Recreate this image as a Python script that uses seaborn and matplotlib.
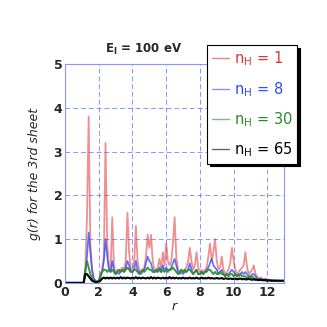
import numpy as np
import pandas as pd
import matplotlib
matplotlib.use("Agg")
import matplotlib.pyplot as plt
import seaborn as sns

# r grid 0.0 .. 13.0 step 0.1, one row per unit of r
r = np.round(np.arange(0, 131) * 0.1, 1)

g_n1 = [0, 0, 0, 0, 0, 0, 0, 0, 0, 0,
        0, 0, 0.3, 1.5, 3.8, 0.9, 0.3, 0.1, 0.05, 0.02,
        0.05, 0.2, 0.3, 0.6, 3.2, 0.9, 0.4, 0.3, 1.5, 0.4,
        0.2, 0.3, 0.25, 0.3, 0.35, 0.3, 0.5, 1.6, 0.7, 0.3,
        0.3, 0.5, 1.3, 0.5, 0.3, 0.25, 0.3, 0.35, 0.6, 1.1,
        0.8, 1.1, 0.5, 0.3, 0.3, 0.35, 0.55, 0.3, 0.7, 0.4,
        0.9, 0.5, 0.4, 0.5, 0.9, 1.5, 0.6, 0.3, 0.25, 0.3,
        0.25, 0.3, 0.35, 0.5, 0.8, 0.5, 0.3, 0.4, 0.7, 0.35,
        0.25, 0.3, 0.25, 0.3, 0.35, 0.6, 0.9, 0.5, 0.7, 1.0,
        0.5, 0.3, 0.35, 0.6, 0.3, 0.2, 0.25, 0.3, 0.45, 0.8,
        0.5, 0.3, 0.2, 0.25, 0.3, 0.35, 0.4, 0.7, 0.35, 0.2,
        0.25, 0.3, 0.4, 0.2, 0.15, 0.1, 0.12, 0.1, 0.08, 0.1,
        0.08, 0.06, 0.07, 0.06, 0.05, 0.06, 0.05, 0.05, 0.04, 0.05,
        0.04]

g_n8 = [0, 0, 0, 0, 0, 0, 0, 0, 0, 0,
        0, 0, 0.2, 0.6, 1.15, 0.7, 0.3, 0.1, 0.05, 0.02,
        0.05, 0.15, 0.25, 0.5, 1.0, 0.6, 0.3, 0.25, 0.5, 0.3,
        0.2, 0.25, 0.2, 0.25, 0.3, 0.25, 0.35, 0.5, 0.4, 0.25,
        0.25, 0.3, 0.5, 0.3, 0.25, 0.2, 0.25, 0.3, 0.45, 0.6,
        0.5, 0.45, 0.3, 0.25, 0.25, 0.3, 0.35, 0.25, 0.4, 0.3,
        0.35, 0.3, 0.3, 0.35, 0.45, 0.55, 0.4, 0.25, 0.2, 0.25,
        0.2, 0.25, 0.25, 0.3, 0.45, 0.3, 0.2, 0.25, 0.3, 0.2,
        0.2, 0.25, 0.2, 0.25, 0.3, 0.35, 0.45, 0.55, 0.4, 0.35,
        0.3, 0.2, 0.25, 0.3, 0.2, 0.15, 0.2, 0.2, 0.25, 0.3,
        0.25, 0.2, 0.15, 0.2, 0.2, 0.25, 0.2, 0.25, 0.2, 0.15,
        0.15, 0.2, 0.2, 0.15, 0.1, 0.08, 0.1, 0.08, 0.07, 0.08,
        0.06, 0.05, 0.06, 0.05, 0.05, 0.05, 0.04, 0.05, 0.04, 0.04,
        0.04]

g_n30 = [0, 0, 0, 0, 0, 0, 0, 0, 0, 0,
         0, 0, 0.3, 0.5, 0.35, 0.2, 0.1, 0.05, 0.03, 0.02,
         0.05, 0.15, 0.25, 0.3, 0.3, 0.25, 0.3, 0.25, 0.3, 0.25,
         0.2, 0.25, 0.3, 0.25, 0.3, 0.25, 0.3, 0.35, 0.3, 0.25,
         0.25, 0.3, 0.3, 0.25, 0.2, 0.25, 0.3, 0.25, 0.3, 0.35,
         0.3, 0.3, 0.25, 0.25, 0.3, 0.25, 0.3, 0.25, 0.3, 0.25,
         0.3, 0.25, 0.3, 0.3, 0.35, 0.3, 0.25, 0.2, 0.25, 0.3,
         0.25, 0.3, 0.25, 0.3, 0.3, 0.25, 0.2, 0.25, 0.3, 0.2,
         0.2, 0.25, 0.2, 0.25, 0.25, 0.3, 0.3, 0.25, 0.2, 0.25,
         0.2, 0.2, 0.25, 0.2, 0.2, 0.15, 0.2, 0.15, 0.2, 0.2,
         0.15, 0.2, 0.15, 0.15, 0.2, 0.15, 0.15, 0.15, 0.1, 0.15,
         0.1, 0.15, 0.1, 0.1, 0.08, 0.08, 0.07, 0.07, 0.06, 0.06,
         0.05, 0.06, 0.05, 0.05, 0.05, 0.04, 0.05, 0.04, 0.04, 0.04,
         0.04]

g_n65 = [0, 0, 0, 0, 0, 0, 0, 0, 0, 0,
         0, 0, 0.2, 0.2, 0.15, 0.1, 0.05, 0.03, 0.02, 0.02,
         0.03, 0.05, 0.1, 0.12, 0.1, 0.12, 0.1, 0.12, 0.1, 0.12,
         0.1, 0.12, 0.1, 0.13, 0.1, 0.12, 0.1, 0.12, 0.11, 0.1,
         0.12, 0.1, 0.13, 0.1, 0.12, 0.1, 0.12, 0.11, 0.1, 0.12,
         0.1, 0.13, 0.1, 0.12, 0.1, 0.12, 0.11, 0.1, 0.12, 0.1,
         0.12, 0.1, 0.13, 0.1, 0.12, 0.1, 0.12, 0.1, 0.11, 0.1,
         0.12, 0.1, 0.11, 0.1, 0.12, 0.1, 0.11, 0.1, 0.12, 0.1,
         0.1, 0.12, 0.1, 0.11, 0.1, 0.12, 0.1, 0.11, 0.1, 0.1,
         0.11, 0.1, 0.1, 0.11, 0.09, 0.1, 0.1, 0.09, 0.1, 0.09,
         0.09, 0.1, 0.08, 0.09, 0.1, 0.08, 0.09, 0.08, 0.08, 0.09,
         0.08, 0.07, 0.08, 0.07, 0.07, 0.06, 0.07, 0.06, 0.06, 0.06,
         0.05, 0.06, 0.05, 0.05, 0.05, 0.05, 0.05, 0.05, 0.05, 0.05,
         0.05]

labels = ["1", "8", "30", "65"]
colors = ["#e03535", "#2f4cff", "#2a8a2a", "#000000"]
alphas = [0.55, 0.8, 0.9, 1.0]
widths = [1.3, 1.2, 1.4, 1.5]
series = [g_n1, g_n8, g_n30, g_n65]

sns.set_style("white")
plt.rcParams["font.family"] = ["DejaVu Sans"]

fig = plt.figure(figsize=(3.27, 3.27), dpi=100)
ax = fig.add_axes([0.199, 0.135, 0.67, 0.669])

for lab, col, a, w, g in zip(labels, colors, alphas, widths, series):
    df = pd.DataFrame({"r": r, "g": g})
    sns.lineplot(data=df, x="r", y="g", ax=ax, color=col, alpha=a, lw=w,
                 label=r"n$_\mathregular{H}$ = " + lab)

ax.set_xlim(0, 13)
ax.set_ylim(0, 5)
ax.set_xticks([0, 2, 4, 6, 8, 10, 12])
ax.set_yticks([0, 1, 2, 3, 4, 5])
ax.grid(True, color="#6a7cff", ls=(0, (5, 3)), lw=0.7, alpha=0.8)
ax.set_axisbelow(True)
for s in ax.spines.values():
    s.set_color("#8a96ff")
    s.set_linewidth(0.8)
ax.tick_params(length=0, labelsize=9, pad=2)
for t in ax.get_xticklabels() + ax.get_yticklabels():
    t.set_fontweight("bold")
ax.set_xlabel("r", style="italic", fontsize=9, labelpad=1)
ax.set_ylabel("g(r) for the 3rd sheet", style="italic", fontsize=9, labelpad=9)

fig.text(0.44, 0.85, r"E$_\mathregular{I}$ = 100 eV", ha="center", va="center",
         fontsize=8.5, fontweight="bold")

leg = ax.legend(loc="upper right", bbox_to_anchor=(0.908, 0.862),
                bbox_transform=fig.transFigure, fontsize=10.5, frameon=True,
                shadow={"color": "black", "alpha": 1}, fancybox=False,
                handlelength=1.2, handletextpad=0.3,
                borderpad=0.3, labelspacing=0.8, borderaxespad=0)
leg.get_frame().set_edgecolor("black")
leg.get_frame().set_linewidth(0.8)
leg.get_frame().set_alpha(1)
for txt, col, h in zip(leg.get_texts(), colors, leg.get_lines()):
    txt.set_color(col)
    h.set_alpha(0.6)
    h.set_linewidth(1.0)

fig.savefig("out.png", dpi=100)
